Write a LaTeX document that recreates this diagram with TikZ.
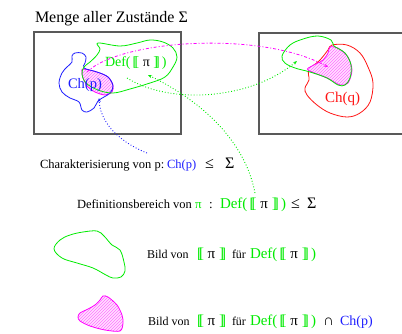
\documentclass[tikz,border=0pt]{standalone}
\usepackage{fontspec}
\setmainfont{Liberation Serif}
\usetikzlibrary{patterns,arrows.meta}
\definecolor{gr}{RGB}{0,235,0}
\definecolor{bl}{RGB}{30,30,255}
\definecolor{mg}{RGB}{255,0,255}
\definecolor{rd}{RGB}{255,20,20}
\newcommand{\mylb}{[\kern-0.2em[}
\newcommand{\myrb}{]\kern-0.2em]}
\newcommand{\fs}[1]{\fontsize{#1}{#1}\selectfont}
\newcommand{\defpi}{{\color{gr}Def(\kern0.15em\mylb\kern0.25em}{\color{black}π}{\color{gr}\kern0.25em\myrb\kern0.15em)}}
\newcommand{\sempi}{{\color{gr}\mylb\kern0.25em}{\color{black}π}{\color{gr}\kern0.25em\myrb}}
\begin{document}
\begin{tikzpicture}[x=1pt,y=-1pt,
  txt/.style={anchor=base west,inner sep=0pt,outer sep=0pt},
  framebox/.style={draw=black!65,line width=1.1pt},
  blob/.style={line width=0.8pt},
  hatch/.style={pattern=north east lines,pattern color=mg!55},
  tip/.style={-{Stealth[length=4pt,width=3pt]}},
  gdot/.style={gr,dotted,line width=0.9pt,tip},
  bdot/.style={bl,dotted,line width=0.9pt,tip},
  mdash/.style={mg,line width=0.8pt,dash pattern=on 3pt off 2pt on 1pt off 2pt,tip}]
\useasboundingbox (0,0) rectangle (402,333);
% title
\node[txt] (title) at (35,22) {\fs{16}Menge aller Zustände Σ};
% frames
\draw[framebox] (34,32) rectangle (181,134);
\draw[framebox] (259,33) rectangle (403,134);
% left blobs
\fill[mg!12] plot[smooth cycle,tension=0.5] coordinates {(83,69) (97,72) (108,77) (113,85) (112,92) (105,95) (95,92) (88,87) (83,78) (82,72)};
\fill[hatch] plot[smooth cycle,tension=0.5] coordinates {(83,69) (97,72) (108,77) (113,85) (112,92) (105,95) (95,92) (88,87) (83,78) (82,72)};
\draw[mg,blob] plot[smooth cycle,tension=0.5] coordinates {(83,69) (97,72) (108,77) (113,85) (112,92) (105,95) (95,92) (88,87) (83,78) (82,72)};
\draw[bl,blob] plot[smooth cycle,tension=0.6] coordinates {(75,53) (82,53) (86,57) (85,63) (84,68) (97,72) (108,77) (113,86) (110,93) (104,97) (98,101) (94,108) (87,112) (82,110) (79,102) (70,98) (62,92) (59,83) (62,73) (67,67) (72,62) (72,56)};
\draw[gr,blob] plot[smooth cycle,tension=0.6] coordinates {(98,43) (100,49) (97,55) (90,62) (84,67) (82,74) (86,83) (98,90) (113,93) (130,89) (150,83) (165,77) (173,67) (177,57) (173,48) (163,42) (150,40) (137,43) (120,46)};
\node[txt] (defl) at (105,66) {\fs{14}\defpi};
\node[txt] (chp) at (68,88) {\fs{14.5}\color{bl}Ch(p)};
% right blobs
\draw[rd,blob] plot[smooth cycle,tension=0.6] coordinates {(332,45) (347,45) (360,53) (368,67) (373,83) (370,102) (360,113) (347,117) (330,113) (317,105) (307,95) (305,88) (309,80) (309,70) (320,60) (328,50)};
\fill[mg!12] plot[smooth cycle,tension=0.5] coordinates {(330,47) (338,48) (348,57) (352,70) (348,83) (340,85) (327,78) (308,70) (312,66) (323,60) (328,53)};
\fill[hatch] plot[smooth cycle,tension=0.5] coordinates {(330,47) (338,48) (348,57) (352,70) (348,83) (340,85) (327,78) (308,70) (312,66) (323,60) (328,53)};
\draw[mg,blob] plot[smooth cycle,tension=0.5] coordinates {(330,47) (338,48) (348,57) (352,70) (348,83) (340,85) (327,78) (308,70) (312,66) (323,60) (328,53)};
\draw[gr,blob] plot[smooth cycle,tension=0.6] coordinates {(282,56) (290,45) (303,39) (318,36) (331,40) (334,46) (345,53) (351,65) (350,78) (345,85) (338,85) (327,78) (310,72) (295,68) (285,63)};
\node[txt] (chq) at (325,102) {\fs{15}\color{rd}Ch(q)};
% text lines
\node[txt] (char) at (40,168) {\fs{12.5}Charakterisierung von p:};
\node[txt] (charch) at (167,168) {\fs{12.5}\color{bl}Ch(p)};
\node[txt] (charle) at (205,168) {\fs{16}≤};
\node[txt] (charsig) at (225,168) {\fs{16}Σ};
\node[txt] (defb) at (77,208) {\fs{12.5}Definitionsbereich von};
\node[txt] (defpi) at (195,208) {\fs{13}\color{gr}π};
\node[txt] (defcol) at (209,208) {\fs{13}:};
\node[txt] (defdef) at (220,208) {\fs{15}\defpi};
\node[txt] (defle) at (291,208) {\fs{16}≤};
\node[txt] (defsig) at (307,208) {\fs{16}Σ};
% legend
\draw[gr,blob] plot[smooth cycle,tension=0.6] coordinates {(54,249) (60,240) (70,235) (83,232) (97,231) (104,236) (112,245) (120,250) (124,262) (125,271) (121,277) (113,278) (106,275) (93,268) (77,263) (62,258)};
\node[txt] (l1a) at (147,258) {\fs{12}Bild von};
\node[txt] (l1b) at (197,258) {\fs{15}\sempi};
\node[txt] (l1c) at (232,258) {\fs{12}für};
\node[txt] (l1d) at (250,258) {\fs{15}\defpi};
\fill[mg!12] plot[smooth cycle,tension=0.5] coordinates {(103,296) (108,297) (117,305) (122,315) (123,323) (120,331) (105,330) (90,326) (80,321) (78,317) (80,313) (88,309) (95,305) (100,300)};
\fill[hatch] plot[smooth cycle,tension=0.5] coordinates {(103,296) (108,297) (117,305) (122,315) (123,323) (120,331) (105,330) (90,326) (80,321) (78,317) (80,313) (88,309) (95,305) (100,300)};
\draw[mg,blob] plot[smooth cycle,tension=0.5] coordinates {(103,296) (108,297) (117,305) (122,315) (123,323) (120,331) (105,330) (90,326) (80,321) (78,317) (80,313) (88,309) (95,305) (100,300)};
\node[txt] (l2a) at (148,325) {\fs{12}Bild von};
\node[txt] (l2b) at (197,325) {\fs{15}\sempi};
\node[txt] (l2c) at (232,325) {\fs{12}für};
\node[txt] (l2d) at (250,325) {\fs{15}\defpi};
\node[txt] (l2e) at (323,325) {\fs{15}∩};
\node[txt] (l2f) at (340,325) {\fs{14}\color{bl}Ch(p)};
% connector end points
\coordinate (mstart) at (87,72);
\coordinate (mend) at (328,67);
\coordinate (gstart) at (127,78);
\coordinate (gend) at (297,61);
\coordinate (g2start) at (255,193);
\coordinate (g2end) at (148,75);
\coordinate (bstart) at (147,153);
\coordinate (bend) at (99,98);
% connectors
\draw[mdash] (mstart) .. controls (120,40) and (260,30) .. (mend);
\draw[gdot] (gstart) .. controls (170,105) and (250,100) .. (gend);
\draw[gdot] (g2start) .. controls (245,140) and (200,100) .. (g2end);
\draw[bdot] (bstart) .. controls (115,140) and (100,120) .. (bend);
\end{tikzpicture}
\end{document}
